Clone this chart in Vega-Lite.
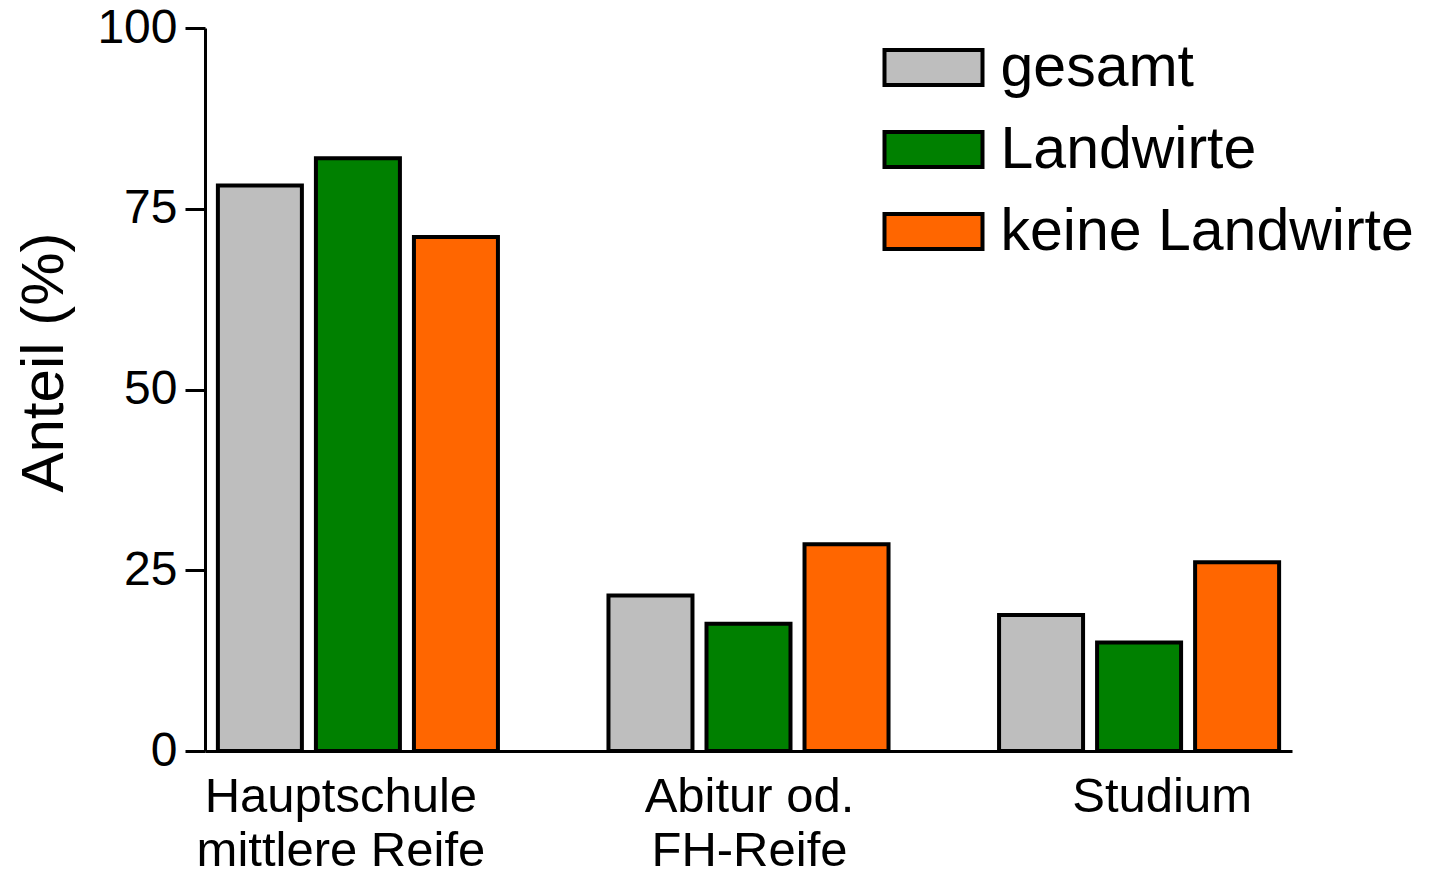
{
  "$schema": "https://vega.github.io/schema/vega-lite/v6.json",
  "width": 1087,
  "height": 723,
  "autosize": {"type": "none"},
  "padding": {"left": 205, "top": 28, "right": 142, "bottom": 123},
  "background": "white",
  "config": {
    "font": "Liberation Sans",
    "view": {"stroke": null},
    "axis": {"grid": false, "domainColor": "black", "tickColor": "black", "labelColor": "black", "titleColor": "black", "labelFont": "Liberation Sans", "titleFont": "Liberation Sans"},
    "legend": {"padding": 0}
  },
  "data": {
    "values": [
      {"Abschluss": "Hauptschule\nmittlere Reife", "Gruppe": "gesamt", "Anteil": 78.2},
      {"Abschluss": "Hauptschule\nmittlere Reife", "Gruppe": "Landwirte", "Anteil": 82.0},
      {"Abschluss": "Hauptschule\nmittlere Reife", "Gruppe": "keine Landwirte", "Anteil": 71.1},
      {"Abschluss": "Abitur od.\nFH-Reife", "Gruppe": "gesamt", "Anteil": 21.5},
      {"Abschluss": "Abitur od.\nFH-Reife", "Gruppe": "Landwirte", "Anteil": 17.6},
      {"Abschluss": "Abitur od.\nFH-Reife", "Gruppe": "keine Landwirte", "Anteil": 28.6},
      {"Abschluss": "Studium", "Gruppe": "gesamt", "Anteil": 18.8},
      {"Abschluss": "Studium", "Gruppe": "Landwirte", "Anteil": 15.0},
      {"Abschluss": "Studium", "Gruppe": "keine Landwirte", "Anteil": 26.1}
    ]
  },
  "mark": {"type": "bar", "stroke": "black", "strokeWidth": 4, "opacity": 1},
  "encoding": {
    "x": {
      "field": "Abschluss",
      "type": "nominal",
      "sort": null,
      "scale": {"paddingInner": 0.283, "paddingOuter": 0.033},
      "axis": {
        "title": null,
        "labelAngle": 0,
        "labelFontSize": 49,
        "labelLineHeight": 54,
        "labelPadding": 21,
        "labelLimit": 0,
        "ticks": false,
        "tickSize": 0,
        "domainWidth": 3,
        "labelExpr": "split(datum.label, '\\n')",
        "labelOffset": {
          "condition": [
            {"test": "datum.index < 0.25", "value": -17},
            {"test": "datum.index > 0.75", "value": 23}
          ],
          "value": 1
        }
      }
    },
    "xOffset": {
      "field": "Gruppe",
      "type": "nominal",
      "sort": ["gesamt", "Landwirte", "keine Landwirte"],
      "scale": {"paddingInner": 0.143, "paddingOuter": 0}
    },
    "y": {
      "field": "Anteil",
      "type": "quantitative",
      "scale": {"domain": [0, 100], "nice": false, "zero": true},
      "axis": {
        "title": "Anteil (%)",
        "values": [0, 25, 50, 75, 100],
        "labelFontSize": 48,
        "labelPadding": 8,
        "tickSize": 20,
        "tickWidth": 3,
        "domainWidth": 3,
        "titleFontSize": 60,
        "titleFontWeight": "normal",
        "titleAngle": -90,
        "titleBaseline": "alphabetic",
        "titleAlign": "center",
        "titleX": -143,
        "titleY": 334
      }
    },
    "color": {
      "field": "Gruppe",
      "type": "nominal",
      "sort": ["gesamt", "Landwirte", "keine Landwirte"],
      "scale": {"domain": ["gesamt", "Landwirte", "keine Landwirte"], "range": ["#BEBEBE", "#008000", "#FF6600"]},
      "legend": {
        "title": null,
        "orient": "none",
        "legendX": 699,
        "legendY": 10,
        "symbolType": "M-2,-0.714H2V0.714H-2Z",
        "symbolSize": 2401,
        "symbolStrokeColor": "black",
        "symbolStrokeWidth": 4,
        "symbolOpacity": 1,
        "labelFontSize": 59,
        "labelFont": "Liberation Sans",
        "labelColor": "black",
        "labelOffset": 37.5,
        "rowPadding": 22,
        "labelLimit": 600
      }
    }
  }
}
